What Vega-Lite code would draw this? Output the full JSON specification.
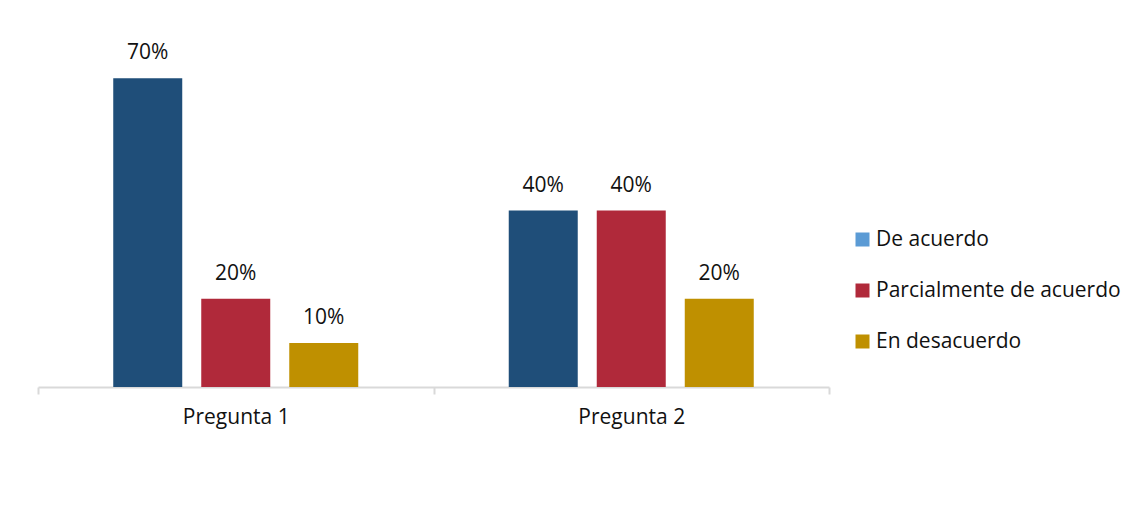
{
  "$schema": "https://vega.github.io/schema/vega-lite/v6.json",
  "width": 791,
  "height": 353,
  "autosize": {"type": "none"},
  "padding": {"left": 38, "top": 34, "right": 301, "bottom": 124},
  "background": "white",
  "config": {"view": {"stroke": null}, "font": "Open Sans"},
  "data": {
    "values": [
      {"pregunta": "Pregunta 1", "serie": "De acuerdo", "valor": 0.7},
      {"pregunta": "Pregunta 1", "serie": "Parcialmente de acuerdo", "valor": 0.2},
      {"pregunta": "Pregunta 1", "serie": "En desacuerdo", "valor": 0.1},
      {"pregunta": "Pregunta 2", "serie": "De acuerdo", "valor": 0.4},
      {"pregunta": "Pregunta 2", "serie": "Parcialmente de acuerdo", "valor": 0.4},
      {"pregunta": "Pregunta 2", "serie": "En desacuerdo", "valor": 0.2}
    ]
  },
  "encoding": {
    "x": {
      "field": "pregunta",
      "type": "nominal",
      "scale": {"paddingInner": 0, "paddingOuter": 0},
      "axis": {
        "title": null,
        "labelAngle": 0,
        "labelFont": "Open Sans",
        "labelFontSize": 21,
        "labelColor": "#111111",
        "labelPadding": 12,
        "domainColor": "#D9D9D9",
        "domainWidth": 2,
        "tickColor": "#D9D9D9",
        "tickWidth": 2,
        "tickSize": 7,
        "tickBand": "extent"
      }
    },
    "xOffset": {
      "field": "serie",
      "type": "nominal",
      "sort": ["De acuerdo", "Parcialmente de acuerdo", "En desacuerdo"],
      "scale": {"paddingInner": 0.216, "paddingOuter": 0.855}
    },
    "y": {
      "field": "valor",
      "type": "quantitative",
      "scale": {"domain": [0, 0.8]},
      "axis": null
    }
  },
  "layer": [
    {
      "mark": {"type": "bar"},
      "encoding": {
        "color": {
          "condition": {"test": "datum.serie === 'De acuerdo'", "value": "#1F4E79"},
          "field": "serie",
          "type": "nominal",
          "sort": ["De acuerdo", "Parcialmente de acuerdo", "En desacuerdo"],
          "scale": {
            "domain": ["De acuerdo", "Parcialmente de acuerdo", "En desacuerdo"],
            "range": ["#5B9BD5", "#B0293A", "#BF9000"]
          },
          "legend": {
            "title": null,
            "orient": "none",
            "legendX": 814,
            "legendY": 195,
            "symbolType": "square",
            "symbolSize": 196,
            "symbolStrokeWidth": 0,
            "symbolOpacity": 1,
            "labelFont": "Open Sans",
            "labelFontSize": 21,
            "labelColor": "#111111",
            "labelOffset": 3,
            "rowPadding": 29,
            "labelLimit": 400
          }
        }
      }
    },
    {
      "mark": {
        "type": "text",
        "baseline": "alphabetic",
        "dy": -19,
        "font": "Open Sans",
        "fontSize": 21,
        "color": "#111111"
      },
      "encoding": {
        "text": {"field": "valor", "type": "quantitative", "format": ".0%"}
      }
    }
  ]
}
